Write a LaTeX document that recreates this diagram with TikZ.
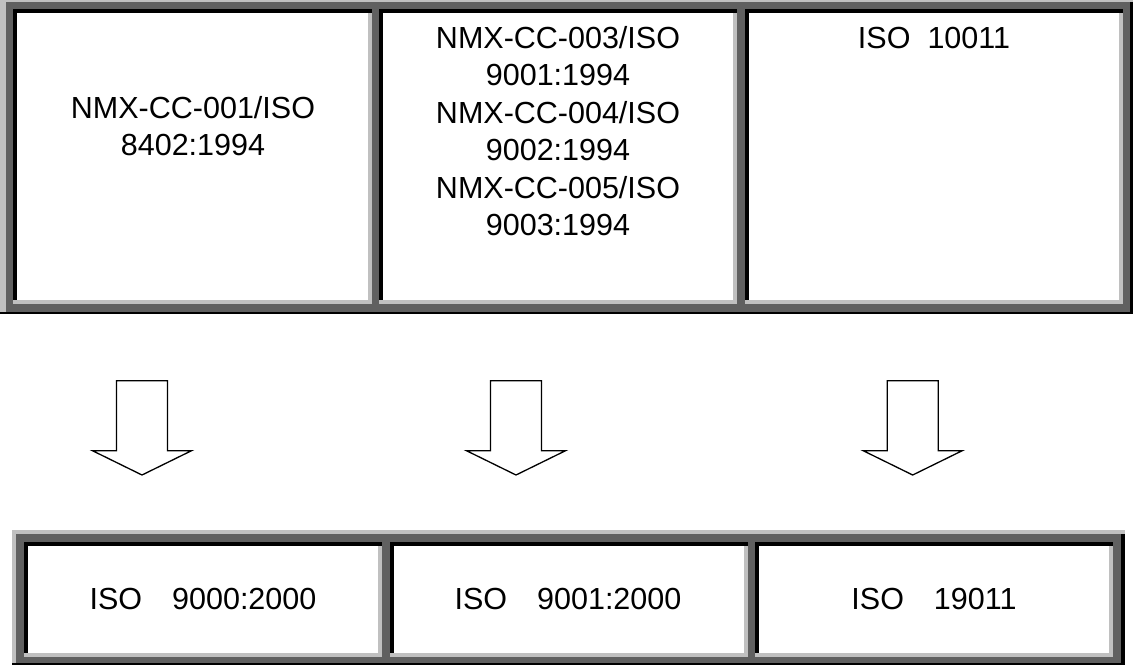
\documentclass[tikz,border=0pt]{standalone}
\usepackage{fontspec}
\setmainfont{Liberation Sans}
\definecolor{bevlight}{HTML}{C0C0C0}
\definecolor{bevdark}{HTML}{606060}
\newcommand\cellframe[4]{%
  \fill[bevlight] (#1,#2) rectangle (#3,#4);
  \fill[black] (#1,#2) rectangle (#3,{#2+4});
  \fill[black] (#1,#2) rectangle ({#1+4},{#4-4.5});
  \fill[white] ({#1+4},{#2+4}) rectangle ({#3-4},{#4-4.5});
}
\begin{document}
\begin{tikzpicture}[x=1pt,y=-1pt,
  celltext/.style={text width=340pt, align=center, inner sep=0pt, anchor=base,
    font=\fontsize{30.5}{37.5}\selectfont},
  blockarrow/.style={draw=black, line width=1.3pt, fill=white, line join=miter},
  blockdown/.pic={\draw[blockarrow] (-25.5,0) -- (25.5,0) -- (25.5,70) -- (49.5,70)
     -- (0,94.3) -- (-49.5,70) -- (-25.5,70) -- cycle;}]
\useasboundingbox (0,0) rectangle (1133,665);
% top table
\fill[black] (0,0) rectangle (1133,314);
\fill[bevlight] (0,0) rectangle (1133,2);
\fill[bevlight] (0,0) rectangle (6,312);
\fill[bevdark] (6,2) rectangle (1130,312);
\cellframe{13}{9}{372}{304}
\cellframe{379}{9}{737}{304}
\cellframe{745}{9}{1123}{304}
% bottom table
\fill[black] (12,530) rectangle (1125,665);
\fill[bevlight] (12,530) rectangle (1125,534);
\fill[bevlight] (12,530) rectangle (16,663);
\fill[bevdark] (16,534) rectangle (1121,663);
\cellframe{24}{542}{382}{657}
\cellframe{390}{542}{748}{657}
\cellframe{755}{542}{1113}{657}
% texts
\node[celltext] (t1) at (193,118.4) {NMX-CC-001/ISO\\8402:1994};
\node[celltext] (t2) at (558,48.4) {NMX-CC-003/ISO\\9001:1994\\NMX-CC-004/ISO\\9002:1994\\NMX-CC-005/ISO\\9003:1994};
\node[celltext] (t3) at (934,48.4) {ISO\hspace{17pt}10011};
\node[celltext] (b1) at (203,609) {ISO\hspace{30pt}9000:2000};
\node[celltext] (b2) at (568,609) {ISO\hspace{30pt}9001:2000};
\node[celltext] (b3) at (934,609) {ISO\hspace{30pt}19011};
% arrows
\pic (a1) at (142,380.7) {blockdown};
\pic (a2) at (516,380.7) {blockdown};
\pic (a3) at (912.7,380.7) {blockdown};
\end{tikzpicture}
\end{document}
